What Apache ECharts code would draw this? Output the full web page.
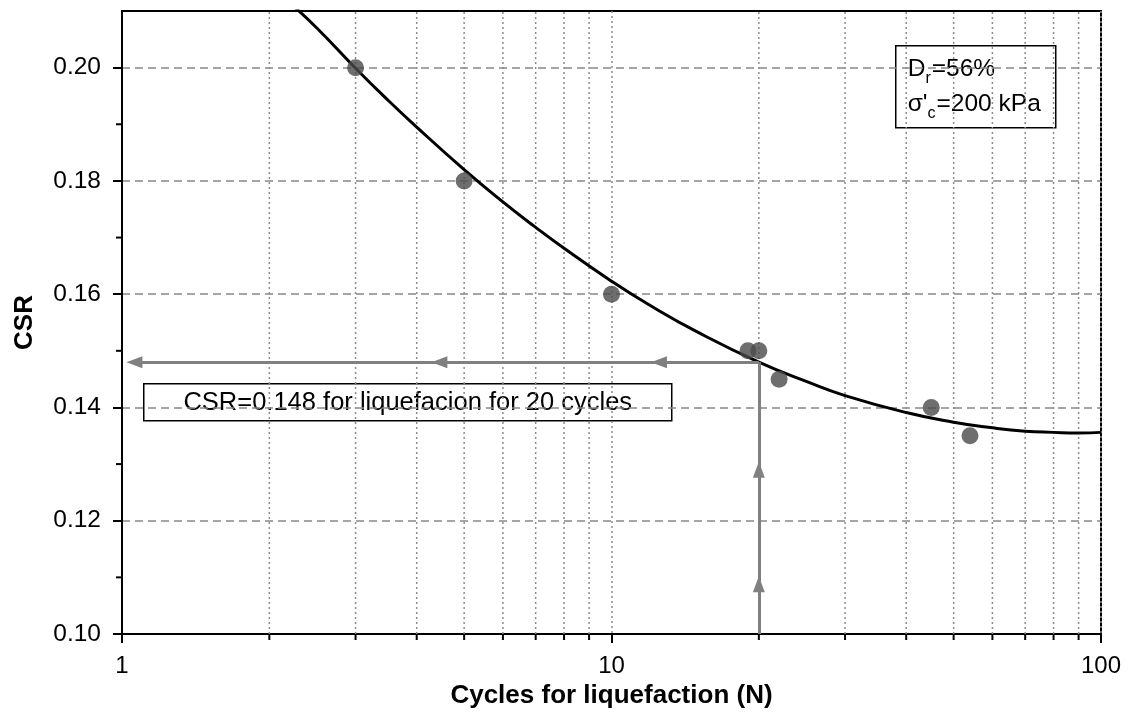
<!DOCTYPE html>
<html>
<head>
<meta charset="utf-8">
<script src="https://cdn.jsdelivr.net/npm/echarts@6/dist/echarts.min.js"></script>
<style>
html,body{margin:0;padding:0;background:#fff;}
#chart{width:1130px;height:714px;}
</style>
</head>
<body>
<div id="chart"></div>
<script>
// ---- data ----
const pointN   = [3, 5, 10, 19, 20, 22, 45, 54];
const pointCSR = [0.200, 0.180, 0.160, 0.150, 0.150, 0.145, 0.140, 0.135];

const curveN   = [2.2, 2.5, 3, 3.5, 4, 5, 6, 7, 8, 10, 12, 15, 20, 25, 30, 40, 50, 60, 70, 80, 90, 100];
const curveCSR = [0.2115, 0.2070, 0.1999, 0.1942, 0.1895, 0.1820, 0.1763, 0.1718, 0.1681, 0.1623, 0.1580, 0.1533,
                  0.1480, 0.1446, 0.1421, 0.1391, 0.1374, 0.1364, 0.1358, 0.1356, 0.1355, 0.1356];

const yTicks  = [0.10, 0.12, 0.14, 0.16, 0.18, 0.20];
const yMinor  = [0.11, 0.13, 0.15, 0.17, 0.19];
const xMinor  = [2, 3, 4, 5, 6, 7, 8, 9, 20, 30, 40, 50, 60, 70, 80, 90];

const targetN = 20;
const targetCSR = 0.148;
const hArrowN = [12.5, 4.45, 1.06];      // arrowheads on the horizontal guide
const vArrowCSR = [0.1088, 0.1290];      // arrowheads on the vertical guide

const annotationText = 'CSR=0.148 for liquefacion for 20 cycles';

const FONT = '"Liberation Sans", Arial, sans-serif';
const Y_MIN = 0.10, Y_MAX = 0.21, X_MIN = 1, X_MAX = 100;

// guide segments (markLine)
const guideLines = [];
let prevN = targetN;
hArrowN.forEach(n => {
  guideLines.push([{coord: [prevN, targetCSR], symbol: 'none'}, {coord: [n, targetCSR], symbol: 'triangle'}]);
  prevN = n;
});
let prevY = Y_MIN;
vArrowCSR.forEach(v => {
  guideLines.push([{coord: [targetN, prevY], symbol: 'none'}, {coord: [targetN, v], symbol: 'triangle'}]);
  prevY = v;
});
guideLines.push([{coord: [targetN, prevY], symbol: 'none'}, {coord: [targetN, targetCSR], symbol: 'none'}]);

const chart = echarts.init(document.getElementById('chart'));
chart.setOption({
  animation: false,
  backgroundColor: '#fff',
  grid: {left: 122, right: 29, top: 11, bottom: 79, show: true, borderColor: '#000', borderWidth: 2, backgroundColor: '#fff'},
  xAxis: {
    type: 'log', logBase: 10, min: X_MIN, max: X_MAX,
    name: 'Cycles for liquefaction (N)', nameLocation: 'middle', nameGap: 49,
    nameTextStyle: {fontFamily: FONT, fontSize: 26, fontWeight: 'bold', color: '#000'},
    axisLine: {show: true, lineStyle: {color: '#000', width: 2}},
    axisTick: {show: true, inside: false, length: 9, lineStyle: {color: '#000', width: 2}},
    axisLabel: {fontFamily: FONT, fontSize: 24, color: '#000', margin: 20},
    splitLine: {show: true, lineStyle: {color: '#8c8c8c', width: 1.5, type: [2, 3]}},
    minorTick: {show: false}
  },
  yAxis: {
    type: 'value', min: Y_MIN, max: Y_MAX, interval: 0.02,
    name: 'CSR', nameLocation: 'middle', nameGap: 84,
    nameTextStyle: {fontFamily: FONT, fontSize: 26, fontWeight: 'bold', color: '#000'},
    axisLine: {show: true, lineStyle: {color: '#000', width: 2}},
    axisTick: {show: true, inside: false, length: 9, lineStyle: {color: '#000', width: 2}, customValues: yTicks},
    axisLabel: {fontFamily: FONT, fontSize: 24.5, color: '#000', margin: 21, customValues: yTicks,
                formatter: v => v.toFixed(2)},
    splitLine: {show: true, lineStyle: {color: '#888', width: 1.5, type: [8, 5]}}
  },
  series: [
    {
      // minor x grid lines (dotted) + minor x ticks
      type: 'custom', coordinateSystem: 'cartesian2d', clip: false, silent: true, z: 1,
      data: xMinor.map(v => [v, Y_MIN]),
      renderItem: (params, api) => {
        const b = api.coord([api.value(0), Y_MIN]);
        const t = api.coord([api.value(0), Y_MAX]);
        return {type: 'group', children: [
          {type: 'line', shape: {x1: b[0], y1: b[1], x2: t[0], y2: t[1]},
           style: {stroke: '#8c8c8c', lineWidth: 1.5, lineDash: [2, 3]}},
          {type: 'line', shape: {x1: b[0], y1: b[1], x2: b[0], y2: b[1] + 6},
           style: {stroke: '#000', lineWidth: 2}}
        ]};
      }
    },
    {
      // minor y ticks
      type: 'custom', coordinateSystem: 'cartesian2d', clip: false, silent: true, z: 1,
      data: yMinor.map(v => [X_MIN, v]),
      renderItem: (params, api) => {
        const p = api.coord([X_MIN, api.value(1)]);
        return {type: 'line', shape: {x1: p[0], y1: p[1], x2: p[0] - 6, y2: p[1]},
                style: {stroke: '#000', lineWidth: 2}};
      }
    },
    {
      // guide arrows
      type: 'line', data: [], silent: true, z: 3,
      markLine: {
        silent: true, animation: false,
        symbol: ['none', 'triangle'], symbolSize: [12, 16],
        label: {show: false},
        lineStyle: {color: '#808080', width: 3, type: 'solid'},
        emphasis: {disabled: true},
        data: guideLines
      }
    },
    {
      name: 'fit', type: 'line', smooth: true, showSymbol: false, silent: true, z: 4,
      lineStyle: {color: '#000', width: 3},
      data: curveN.map((n, i) => [n, curveCSR[i]])
    },
    {
      name: 'data', type: 'scatter', symbolSize: 17, silent: true, z: 5,
      itemStyle: {color: '#4a4a4a'},
      data: pointN.map((n, i) => [n, pointCSR[i]])
    }
  ],
  graphic: [
    {
      type: 'group', left: 143, top: 383, z: 10,
      children: [
        {type: 'rect', shape: {x: 0, y: 0, width: 528, height: 37},
         style: {fill: '#fff', stroke: '#000', lineWidth: 1.5}},
        {type: 'text', x: 264, y: 19,
         style: {text: annotationText, fontFamily: FONT, fontSize: 25.5, fill: '#000',
                 align: 'center', verticalAlign: 'middle'}}
      ]
    },
    {
      type: 'group', left: 895, top: 45, z: 10,
      children: [
        {type: 'rect', shape: {x: 0, y: 0, width: 160, height: 82},
         style: {fill: '#fff', stroke: '#000', lineWidth: 1.5}},
        {type: 'text', x: 12, y: 6,
         style: {
           text: '{n|D}{s|r}{n|=56%}\n{n|σ\'}{s|c}{n|=200 kPa}',
           fontFamily: FONT, fill: '#000',
           rich: {
             n: {fontFamily: FONT, fontSize: 24.5, lineHeight: 35, fill: '#000'},
             s: {fontFamily: FONT, fontSize: 16, lineHeight: 35, verticalAlign: 'bottom', fill: '#000', padding: [0, 1, 0, 0]}
           }
         }}
      ]
    }
  ]
});
</script>
</body>
</html>
